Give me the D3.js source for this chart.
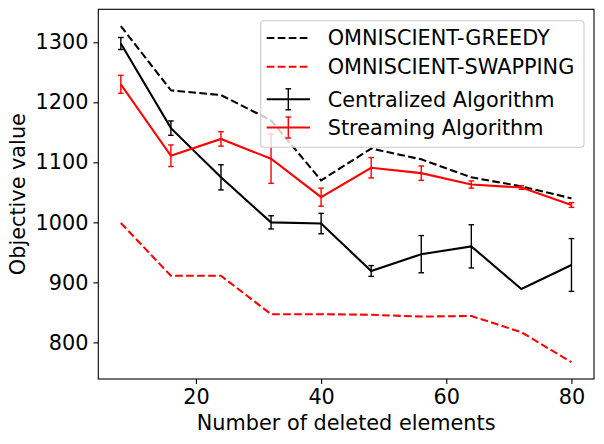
<!DOCTYPE html>
<html><head><meta charset="utf-8">
<script src="https://cdn.jsdelivr.net/npm/d3@7"></script>
<style>body{margin:0;background:#fff}svg{display:block}text{font-family:"DejaVu Sans",sans-serif}</style>
</head><body><svg id="c" width="604" height="444"></svg>
<script>
const xs = [8,16,24,32,40,48,56,64,72,80];
const greedy = [1327,1220,1212,1170,1070,1123,1105,1075,1060,1040];
const swapping = [999,911,911,847,847,846,843,844,817,767];
const central = [1298,1157,1075,1000,998,919,947,960,889,929];
const centralErr = [10,12,21,11,17,9,31,36,0,44];
const stream = [1230,1111,1139,1106,1042,1091,1082,1063,1058,1029];
const streamErr = [15,18,12,41,15,17,12,6,3,4];
const yTicks = [800,900,1000,1100,1200,1300];
const xTicks = [20,40,60,80];
const labels = ["OMNISCIENT-GREEDY","OMNISCIENT-SWAPPING","Centralized Algorithm","Streaming Algorithm"];

const svg = d3.select("#c");
const L=98.3,R=594,T=9.3,B=379;
const FS = 20.8;
const xmin=d3.min(xs), xmax=d3.max(xs), xm=(xmax-xmin)*0.05;
const x = d3.scaleLinear().domain([xmin-xm,xmax+xm]).range([L,R]);
const allY = [...greedy,...swapping,...central.map((v,i)=>v+centralErr[i]),...central.map((v,i)=>v-centralErr[i]),
  ...stream.map((v,i)=>v+streamErr[i]),...stream.map((v,i)=>v-streamErr[i])];
const ymin=d3.min(allY), ymax=d3.max(allY), ym=(ymax-ymin)*0.05;
const y = d3.scaleLinear().domain([ymin-ym,ymax+ym]).range([B,T]);

const lw=2.08, dash="7.7,3.3";
const line = d3.line().x((d,i)=>x(xs[i])).y(d=>y(d));
const g = svg.append("g");
function errs(vals, err, col){
  const cw=2.8;
  vals.forEach((v,i)=>{
    if(err[i]<=0) return;
    const cx=x(xs[i]);
    g.append("line").attr("x1",cx).attr("x2",cx).attr("y1",y(v-err[i])).attr("y2",y(v+err[i])).attr("stroke",col).attr("stroke-width",1.4);
    [v-err[i],v+err[i]].forEach(e=>g.append("line").attr("x1",cx-cw).attr("x2",cx+cw).attr("y1",y(e)).attr("y2",y(e)).attr("stroke",col).attr("stroke-width",1.4));
  });
}
g.append("path").datum(greedy).attr("d",line).attr("fill","none").attr("stroke","#000").attr("stroke-width",lw).attr("stroke-dasharray",dash);
g.append("path").datum(swapping).attr("d",line).attr("fill","none").attr("stroke","#ff0000").attr("stroke-width",lw).attr("stroke-dasharray",dash);
g.append("path").datum(central).attr("d",line).attr("fill","none").attr("stroke","#000").attr("stroke-width",lw);
errs(central,centralErr,"#000");
g.append("path").datum(stream).attr("d",line).attr("fill","none").attr("stroke","#ff0000").attr("stroke-width",lw);
errs(stream,streamErr,"#ff0000");

// axes
const xa = svg.append("g").attr("transform",`translate(0,${B})`).call(d3.axisBottom(x).tickValues(xTicks).tickSize(4.9).tickPadding(4.9).tickFormat(d3.format("d")));
const ya = svg.append("g").attr("transform",`translate(${L},0)`).call(d3.axisLeft(y).tickValues(yTicks).tickSize(4.9).tickPadding(4.9).tickFormat(d3.format("d")));
[xa,ya].forEach(a=>{a.select(".domain").remove();a.selectAll("line").attr("stroke","#000").attr("stroke-width",1.1);a.selectAll("text").attr("font-size",FS).attr("font-family","DejaVu Sans").attr("fill","#000");});
svg.append("rect").attr("x",L).attr("y",T).attr("width",R-L).attr("height",B-T).attr("fill","none").attr("stroke","#000").attr("stroke-width",1.1);

svg.append("text").attr("x",(L+R)/2).attr("y",423).attr("dy","0.36em").attr("text-anchor","middle").attr("font-size",FS).text("Number of deleted elements");
svg.append("text").attr("transform",`translate(17.3,${(T+B)/2}) rotate(-90)`).attr("dy","0.36em").attr("text-anchor","middle").attr("font-size",FS).text("Objective value");

// legend
const lg = svg.append("g");
lg.append("rect").attr("x",260.7).attr("y",20.7).attr("width",323.3).attr("height",126.6).attr("rx",3).attr("fill","#fff").attr("fill-opacity",0.8).attr("stroke","#cccccc").attr("stroke-width",1.1);
const rowsY=[38,66.7,99.3,127.5];
const cols=["#000","#ff0000","#000","#ff0000"];
labels.forEach((t,i)=>{
  const yy=rowsY[i];
  lg.append("line").attr("x1",266.7).attr("x2",310).attr("y1",yy).attr("y2",yy).attr("stroke",cols[i]).attr("stroke-width",lw).attr("stroke-dasharray",i<2?dash:null);
  if(i>=2){
    const cx=288.3, h=10.5;
    lg.append("line").attr("x1",cx).attr("x2",cx).attr("y1",yy-h).attr("y2",yy+h).attr("stroke",cols[i]).attr("stroke-width",1.4);
    [yy-h,yy+h].forEach(e=>lg.append("line").attr("x1",cx-2.8).attr("x2",cx+2.8).attr("y1",e).attr("y2",e).attr("stroke",cols[i]).attr("stroke-width",1.4));
  }
  lg.append("text").attr("x",327.7).attr("y",yy).attr("dy","0.36em").attr("font-size",FS).text(t);
});
</script></body></html>
